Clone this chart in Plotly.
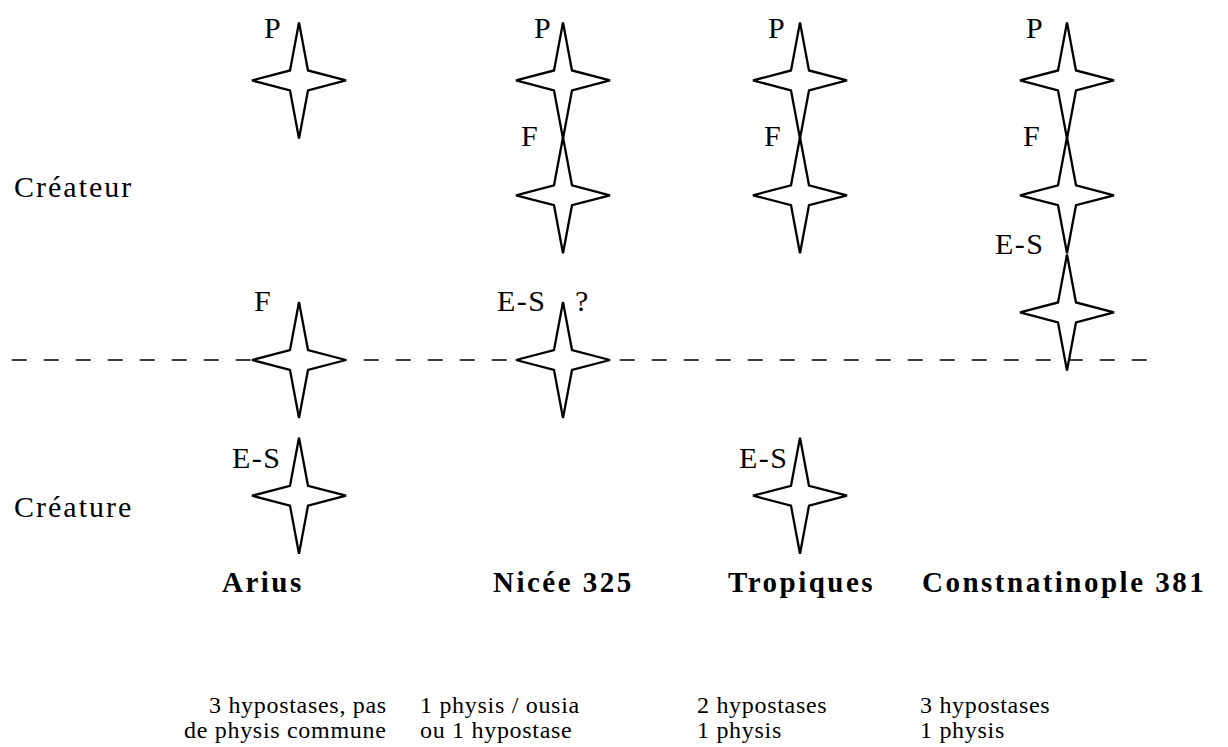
import plotly.graph_objects as go

# ---------------- data ----------------
columns = ["Arius", "Nicée 325", "Tropiques", "Constnatinople 381"]
column_pos = [2.99, 5.63, 8.00, 10.67]          # horizontal position of each column
persons = ["P", "F", "E-S"]
# vertical level of each person's star (0 = Créateur / Créature boundary)
levels = {
    "Arius":              [2.41, 0.00, -1.17],
    "Nicée 325":          [2.41, 1.42, 0.00],
    "Tropiques":          [2.41, 1.42, -1.17],
    "Constnatinople 381": [2.41, 1.42, 0.41],
}
uncertain = {"Nicée 325": "E-S"}                 # marked with "?"
realms = ["Créateur", "Créature"]
realm_levels = [1.50, -1.26]
notes_line1 = ["3 hypostases, pas", "1 physis / ousia", "2 hypostases", "3 hypostases"]
notes_line2 = ["de physis commune", "ou 1 hypostase", "1 physis", "1 physis"]

# ---------------- layout / style ----------------
W, H = 1228, 747
PX_X = 100.0      # pixels per x unit
PX_Y = 116.0      # pixels per y unit
Y_TOP = 360 / PX_Y
Y_BOT = -(H - 360) / PX_Y
FONT = "Liberation Serif"

star_dx = [0, 0.09, 0.47, 0.09, 0, -0.09, -0.47, -0.09, 0]
star_dy = [0.5, 0.086, 0, -0.086, -0.5, -0.086, 0, 0.086, 0.5]

# label offsets (px) relative to star centre: right edge dx, centre dy
label_dx = {
    "Arius": [-15, -25, -15],
    "Nicée 325": [-9, -22, -14],
    "Tropiques": [-12, -16, -9],
    "Constnatinople 381": [-21, -24, -20],
}
label_dy = {
    "Arius": [-53, -60, -38],
    "Nicée 325": [-53, -60, -60],
    "Tropiques": [-53, -60, -38],
    "Constnatinople 381": [-53, -60, -69],
}
title_pos = [2.63, 5.63, 8.01, 10.64]
note_anchor = ["right", "left", "left", "left"]
note_pos = [3.89, 4.18, 6.95, 9.18]


def sp(text, ls):
    return f'<span style="letter-spacing:{ls}px">{text}</span>'


fig = go.Figure()
annotations = []

for ci, col in enumerate(columns):
    cx = column_pos[ci]
    for pi, person in enumerate(persons):
        lv = levels[col][pi]
        fig.add_trace(go.Scatter(
            x=[cx + d for d in star_dx],
            y=[lv + d for d in star_dy],
            mode="lines", fill="toself", fillcolor="white",
            line=dict(color="black", width=2.3),
            hoverinfo="skip", showlegend=False,
        ))
        annotations.append(dict(
            x=cx + label_dx[col][pi] / PX_X,
            y=lv - label_dy[col][pi] / PX_Y,
            text=sp(person, 1.5), xanchor="right", yanchor="middle",
            font=dict(size=30, family=FONT, color="black"),
        ))
        if uncertain.get(col) == person:
            annotations.append(dict(
                x=cx + 10 / PX_X,
                y=lv - label_dy[col][pi] / PX_Y,
                text="?", xanchor="left", yanchor="middle",
                font=dict(size=30, family=FONT, color="black"),
            ))
    annotations.append(dict(
        x=title_pos[ci], y=-(582 - 360) / PX_Y,
        text=sp(f"<b>{col}</b>", 2.5), xanchor="center", yanchor="middle",
        font=dict(size=29, family=FONT, color="black"),
    ))
    annotations.append(dict(
        x=note_pos[ci], y=-(705 - 360) / PX_Y,
        text=sp(notes_line1[ci], 0.7), xanchor=note_anchor[ci], yanchor="middle",
        font=dict(size=24, family=FONT, color="black"),
    ))
    annotations.append(dict(
        x=note_pos[ci], y=-(730 - 360) / PX_Y,
        text=sp(notes_line2[ci], 0.7), xanchor=note_anchor[ci], yanchor="middle",
        font=dict(size=24, family=FONT, color="black"),
    ))

for name, lv in zip(realms, realm_levels):
    annotations.append(dict(
        x=0.12, y=lv, text=sp(name, 2), xanchor="left", yanchor="middle",
        font=dict(size=30, family=FONT, color="black"),
    ))

for a in annotations:
    a.update(xref="x", yref="y", showarrow=False)

fig.update_layout(
    width=W, height=H,
    margin=dict(l=0, r=0, t=0, b=0),
    paper_bgcolor="white", plot_bgcolor="white",
    xaxis=dict(range=[0, W / PX_X], visible=False, fixedrange=True),
    yaxis=dict(range=[Y_BOT, Y_TOP], visible=False, fixedrange=True),
    shapes=[dict(type="line", xref="x", yref="y", x0=0.117, x1=11.47, y0=0, y1=0,
                 line=dict(color="black", width=1.6, dash="15px,17px"), layer="below")],
    annotations=annotations,
)

fig.write_html(
    "out.html",
    config={"displayModeBar": False},
    post_script="document.body.style.margin='0';document.body.style.overflow='hidden';",
)
